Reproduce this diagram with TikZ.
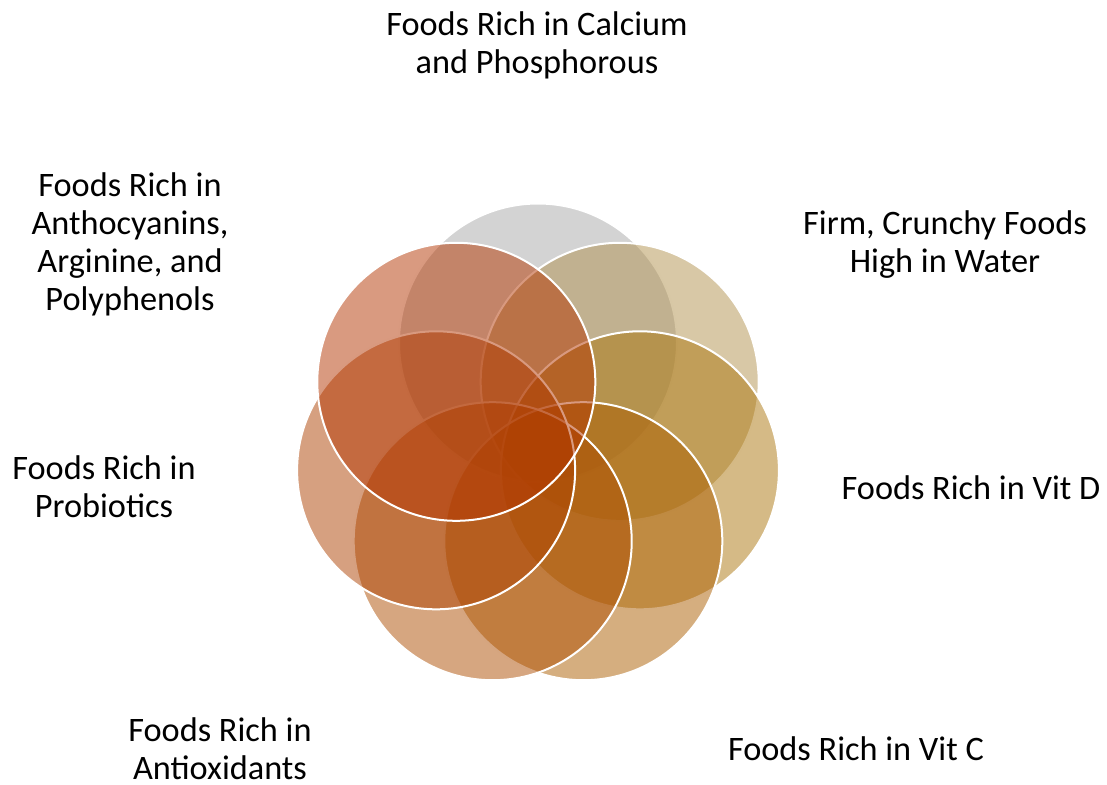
\documentclass[tikz,border=0pt]{standalone}
\usepackage{fontspec}
\setmainfont{Carlito}
% petal fill colours (drawn at half opacity)
\definecolor{petalA}{RGB}{167,167,167}
\definecolor{petalB}{RGB}{177,145,77}
\definecolor{petalC}{RGB}{171,117,13}
\definecolor{petalD}{RGB}{171,93,0}
\definecolor{petalE}{RGB}{173,77,1}
\definecolor{petalF}{RGB}{173,65,1}
\definecolor{petalG}{RGB}{179,53,1}
\begin{document}
\begin{tikzpicture}[x=1pt,y=-1pt,
  petal/.style={circle, minimum size=278pt, inner sep=0pt, fill opacity=0.5,
    draw=white, draw opacity=1, line width=2pt},
  lbl/.style={align=center, inner sep=0pt, text=black,
    font=\fontsize{34.3}{38}\selectfont}]
\useasboundingbox (0,0) rectangle (1107,784);

% overlapping circles, bottom to top
\node[petal, fill=petalA] (calcium)  at (538.0,342.5) {};
\node[petal, fill=petalB] (crunchy)  at (619.7,381.8) {};
\node[petal, fill=petalC] (vitd)     at (639.9,470.3) {};
\node[petal, fill=petalD] (vitc)     at (583.3,541.2) {};
\node[petal, fill=petalE] (antiox)   at (492.7,541.2) {};
\node[petal, fill=petalF] (probio)   at (436.1,470.3) {};
\node[petal, fill=petalG] (antho)    at (456.3,381.8) {};

% labels
\node[lbl] (tCalcium) at (537,45)  {Foods Rich in Calcium\\and Phosphorous};
\node[lbl] (tCrunchy) at (945,245) {Firm, Crunchy Foods\\High in Water};
\node[lbl] (tVitD)    at (971,488) {Foods Rich in Vit D};
\node[lbl] (tVitC)    at (856,749) {Foods Rich in Vit C};
\node[lbl] (tAntiox)  at (220,749) {Foods Rich in\\Antioxidants};
\node[lbl] (tProbio)  at (104,487) {Foods Rich in\\Probiotics};
\node[lbl] (tAntho)   at (130,244) {Foods Rich in\\Anthocyanins,\\Arginine, and\\Polyphenols};
\end{tikzpicture}
\end{document}
